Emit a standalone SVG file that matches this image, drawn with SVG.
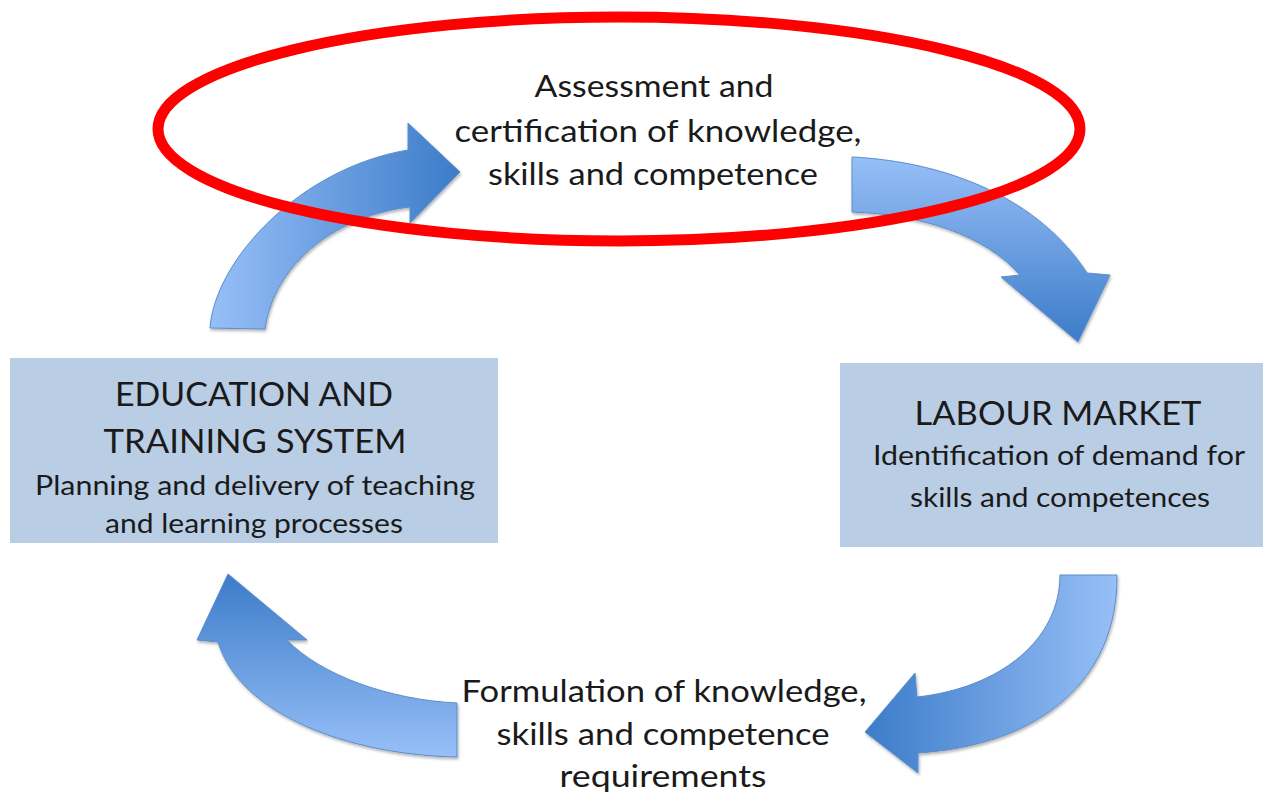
<svg xmlns="http://www.w3.org/2000/svg" width="1263" height="800" viewBox="0 0 1263 800">
  <style>
    .box { fill: #b9cde5; }
    .arrow { stroke: #5a8dcc; stroke-width: 1; stroke-linejoin: miter; filter: url(#shadow); }
    .label { font-family: Lato, "Open Sans", "Liberation Sans", sans-serif; fill: #1a1a1a; text-anchor: middle; }
    .big { font-size: 30px; }
    .title { font-size: 32px; }
    .sub { font-size: 26px; }
    .ring { fill: none; stroke: #ff0000; stroke-width: 11; }
  </style>
  <defs>
    <filter id="shadow" x="-10%" y="-10%" width="130%" height="130%">
      <feDropShadow dx="1" dy="2" stdDeviation="1.5" flood-color="#000" flood-opacity="0.3"/>
    </filter>
    <!-- arrow fills: light blue at the tail, deeper blue at the head -->
    <linearGradient id="gradUpRight" gradientUnits="userSpaceOnUse" x1="210" y1="0" x2="460" y2="0">
      <stop offset="0" stop-color="#97bff7"/>
      <stop offset="1" stop-color="#3c7cc9"/>
    </linearGradient>
    <linearGradient id="gradDownRight" gradientUnits="userSpaceOnUse" x1="0" y1="157" x2="0" y2="342">
      <stop offset="0" stop-color="#97bff7"/>
      <stop offset="1" stop-color="#3c7cc9"/>
    </linearGradient>
    <linearGradient id="gradUpLeft" gradientUnits="userSpaceOnUse" x1="0" y1="574" x2="0" y2="757">
      <stop offset="0" stop-color="#3c7cc9"/>
      <stop offset="1" stop-color="#97bff7"/>
    </linearGradient>
    <linearGradient id="gradDownLeft" gradientUnits="userSpaceOnUse" x1="865" y1="0" x2="1117" y2="0">
      <stop offset="0" stop-color="#3c7cc9"/>
      <stop offset="1" stop-color="#97bff7"/>
    </linearGradient>
  </defs>

  <rect width="1263" height="800" fill="#ffffff"/>

  <!-- curved block arrows forming the cycle -->
  <g id="connectors">
    <path id="arrow-education-to-assessment" class="arrow" fill="url(#gradUpRight)"
          d="M210,328 C215,260 300,168 408,150 L408,123 L460,172 L410,223 L410,207 C340,215 275,260 265,329 Z"/>
    <path id="arrow-assessment-to-labour" class="arrow" fill="url(#gradDownRight)"
          d="M852,157 C950,162 1040,200 1087,273 L1110,275 L1078,342 L1001,277 L1020,275 C985,235 920,214 852,212 Z"/>
    <path id="arrow-labour-to-formulation" class="arrow" fill="url(#gradDownLeft)"
          d="M1117,575 C1118,680 1040,745 918,753 L918,773 L865,732 L915,673 L917,697 C1000,688 1060,640 1060,575 Z"/>
    <path id="arrow-formulation-to-education" class="arrow" fill="url(#gradUpLeft)"
          d="M457,703 C390,700 320,675 287,640 L307,640 L228,574 L197,640 L218,642 C240,715 350,755 457,757 Z"/>
  </g>

  <g id="node-assessment">
    <text class="label big" x="654" y="97" textLength="239" lengthAdjust="spacingAndGlyphs">Assessment and</text>
    <text class="label big" x="658" y="142" textLength="407" lengthAdjust="spacingAndGlyphs">certification of knowledge,</text>
    <text class="label big" x="653" y="185" textLength="330" lengthAdjust="spacingAndGlyphs">skills and competence</text>
  </g>

  <g id="node-education">
    <rect class="box" x="10" y="358" width="488" height="185"/>
    <text class="label title" x="254" y="406" textLength="278" lengthAdjust="spacingAndGlyphs">EDUCATION AND</text>
    <text class="label title" x="255" y="453" textLength="303" lengthAdjust="spacingAndGlyphs">TRAINING SYSTEM</text>
    <text class="label sub" x="255" y="495" textLength="440" lengthAdjust="spacingAndGlyphs">Planning and delivery of teaching</text>
    <text class="label sub" x="254" y="533" textLength="298" lengthAdjust="spacingAndGlyphs">and learning processes</text>
  </g>

  <g id="node-labour">
    <rect class="box" x="840" y="363" width="423" height="184"/>
    <text class="label title" x="1058" y="425" textLength="287" lengthAdjust="spacingAndGlyphs">LABOUR MARKET</text>
    <text class="label sub" x="1059" y="465" textLength="372" lengthAdjust="spacingAndGlyphs">Identification of demand for</text>
    <text class="label sub" x="1060" y="507" textLength="300" lengthAdjust="spacingAndGlyphs">skills and competences</text>
  </g>

  <g id="node-formulation">
    <text class="label big" x="664" y="702" textLength="405" lengthAdjust="spacingAndGlyphs">Formulation of knowledge,</text>
    <text class="label big" x="663" y="745" textLength="333" lengthAdjust="spacingAndGlyphs">skills and competence</text>
    <text class="label big" x="663" y="787" textLength="207" lengthAdjust="spacingAndGlyphs">requirements</text>
  </g>

  <!-- red highlight ring around the assessment step -->
  <g id="highlight">
    <ellipse class="ring" cx="619" cy="129" rx="461" ry="112"/>
  </g>
</svg>
